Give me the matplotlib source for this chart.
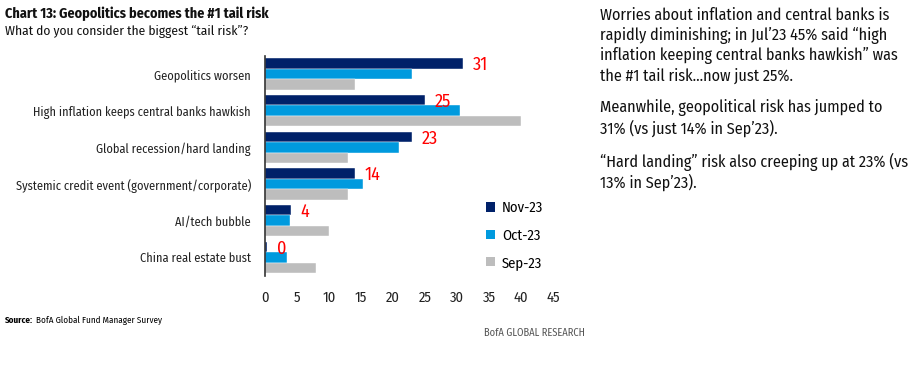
import matplotlib
matplotlib.use('Agg')
import matplotlib.pyplot as plt
from matplotlib.patches import Patch
from matplotlib import font_manager
import numpy as np

# Survey data (% of FMS respondents)
categories = [
    'Geopolitics worsen',
    'High inflation keeps central banks hawkish',
    'Global recession/hard landing',
    'Systemic credit event (government/corporate)',
    'AI/tech bubble',
    'China real estate bust',
]
nov_23 = [31, 25, 23, 14, 4, 0.3]
oct_23 = [23, 30.5, 21, 15.3, 3.9, 3.4]
sep_23 = [14, 40, 13, 13, 10, 8]
series_names = ['Nov-23', 'Oct-23', 'Sep-23']
x_ticks = [0, 5, 10, 15, 20, 25, 30, 35, 40, 45]

colors = ['#002169', '#009ADE', '#BDBDBD']

names = {f.name for f in font_manager.fontManager.ttflist}
if 'Fira Sans Condensed' in names:
    plt.rcParams['font.family'] = ['Fira Sans Condensed', 'DejaVu Sans']
    scale = 1.0
else:
    plt.rcParams['font.family'] = ['Liberation Sans', 'DejaVu Sans']
    scale = 0.85

fig = plt.figure(figsize=(9.24, 3.75), dpi=100)
W, H = 924, 375

# axes placed in pixel terms
ax = fig.add_axes([265 / W, 1 - 275.7 / H, 288 / W, 220 / H])

y = np.arange(len(categories))
h = 0.285
for i, (vals, c) in enumerate(zip([nov_23, oct_23, sep_23], colors)):
    ax.barh(y + (i - 1) * h, vals, height=h, color=c, edgecolor='white', linewidth=0.3)

# red data labels for latest month
for yi, v in zip(y, nov_23):
    ax.text(v + 1.5, yi - h + 0.04, f'{v:.0f}', color='#FF0000', fontsize=13 * scale,
            va='center', ha='left')

ax.set_xlim(0, 45)
ax.set_ylim(5.5, -0.5)
ax.set_xticks(x_ticks)
ax.set_yticks(y)
ax.set_yticklabels(categories)
ax.tick_params(axis='both', length=0, labelsize=8.9 * scale, colors='#222222')
ax.tick_params(axis='x', labelsize=10.5 * scale, pad=11)
ax.tick_params(axis='y', pad=10)
for s in ['top', 'right', 'bottom']:
    ax.spines[s].set_visible(False)
ax.spines['left'].set_linewidth(1.2)
ax.spines['left'].set_color('#333333')

handles = [Patch(facecolor=c, edgecolor='none') for c in colors]
fig.legend(handles, series_names, loc='upper left', bbox_to_anchor=(486 / W, 1 - 201 / H),
           frameon=False, fontsize=10.5 * scale, handlelength=0.6, handleheight=0.6,
           handletextpad=0.5, labelspacing=0.9, borderaxespad=0, borderpad=0)

# titles
fig.text(5 / W, 1 - 14 / H, 'Chart 13: Geopolitics becomes the #1 tail risk',
         fontsize=10.2 * scale, fontweight='bold', va='center', ha='left', color='#111111')
fig.text(5 / W, 1 - 32 / H, 'What do you consider the biggest \u201ctail risk\u201d?',
         fontsize=9.6 * scale, va='center', ha='left', color='#111111')

# footer
fig.text(5 / W, 1 - 320 / H, 'Source:', fontsize=6.5 * scale, fontweight='bold', va='center', ha='left')
fig.text(36 / W, 1 - 320 / H, 'BofA Global Fund Manager Survey', fontsize=6.5 * scale,
         va='center', ha='left')
fig.text(585 / W, 1 - 333 / H, 'BofA GLOBAL RESEARCH', fontsize=7.5 * scale, va='center', ha='right',
         color='#555555')

# commentary on the right
paras = [
    (15, ['Worries about inflation and central banks is',
          'rapidly diminishing; in Jul\u201923 45% said \u201chigh',
          'inflation keeping central banks hawkish\u201d was',
          'the #1 tail risk...now just 25%.']),
    (108, ['Meanwhile, geopolitical risk has jumped to',
           '31% (vs just 14% in Sep\u201923).']),
    (162, ['\u201cHard landing\u201d risk also creeping up at 23% (vs',
           '13% in Sep\u201923).']),
]
for y0, lines in paras:
    for k, line in enumerate(lines):
        fig.text(600 / W, 1 - (y0 + 20.3 * k) / H, line, fontsize=11.6 * scale, va='center',
                 ha='left', color='#111111')

plt.savefig('out.png', dpi=100)
plt.close()
